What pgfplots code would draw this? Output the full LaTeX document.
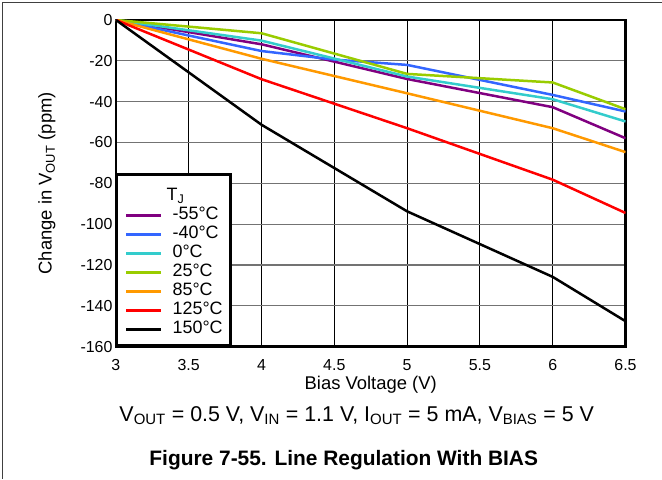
\documentclass[border=0pt]{standalone}
\usepackage{fontspec}
\setmainfont{Liberation Sans}
\usepackage{pgfplots}
\pgfplotsset{compat=1.18}
\definecolor{cPurple}{HTML}{800080}
\definecolor{cBlue}{HTML}{3366FF}
\definecolor{cCyan}{HTML}{33CCCC}
\definecolor{cGreen}{HTML}{99CC00}
\definecolor{cOrange}{HTML}{FF9900}
\definecolor{cRed}{HTML}{FF0000}
\begin{document}
\begin{tikzpicture}
\path (-116bp,-132bp) rectangle (546bp,347bp);
\draw[black!75, line width=1bp] (-113bp,-132bp) -- (-113bp,344bp) -- (546bp,344bp);
\begin{axis}[
  at={(0,0)}, anchor=south west,
  scale only axis, width=510bp, height=327bp,
  xmin=3, xmax=6.5, ymin=-160, ymax=0,
  xtick={3,3.5,4,4.5,5,5.5,6,6.5},
  ytick={-160,-140,-120,-100,-80,-60,-40,-20,0},
  /pgf/number format/assume math mode=true,
  tick style={draw=none},
  tick label style={font=\fontsize{16}{18}\selectfont},
  xticklabel style={yshift=-9bp},
  xmajorgrids, ymajorgrids,
  x grid style={black, line width=1bp},
  y grid style={black!55, line width=1.2bp},
  axis line style={line width=2.5bp},
  xlabel={Bias Voltage (V)},
  ylabel={Change in V\textsubscript{OUT} (ppm)},
  xlabel style={font=\fontsize{18.5}{20}\selectfont, at={([yshift=-38.5bp]axis description cs:0.5,0)}, anchor=center},
  ylabel style={font=\fontsize{18.5}{20}\selectfont, at={([xshift=-69bp]axis description cs:0,0.5)}, anchor=center},
  every axis plot/.append style={line width=2.5bp},
  legend image code/.code={\draw[#1] (0bp,0bp) -- (35bp,0bp);},
  legend cell align=left,
  legend style={at={(0,0)}, anchor=south west, draw=black, line width=2.5bp,
    fill=white, font=\fontsize{18}{19}\selectfont,
    inner xsep=8bp, inner ysep=6.5bp, column sep=10bp, row sep=0bp,
    nodes={inner sep=0bp, text height=13.5bp, text depth=5.5bp}},
]
\addlegendimage{empty legend}
\addlegendentry[text height=19.5bp]{\hspace{-6bp}T\textsubscript{J}}
\addplot[cPurple] coordinates {(3,0) (4,-11.9) (5,-28.9) (6,-42.7) (6.5,-57.9)};
\addlegendentry{-55°C}
\addplot[cBlue] coordinates {(3,0) (4,-15.2) (4.5,-19.4) (5,-22) (6,-36.7) (6.5,-44.8)};
\addlegendentry{-40°C}
\addplot[cCyan] coordinates {(3,0) (4,-10.1) (5,-27.7) (6,-38.8) (6.5,-49.7)};
\addlegendentry{0°C}
\addplot[cGreen] coordinates {(3,0) (4,-6.5) (5,-26.4) (6,-30.6) (6.5,-43.7)};
\addlegendentry{25°C}
\addplot[cOrange] coordinates {(3,0) (4,-19) (5,-35.9) (6,-53) (6.5,-64.7)};
\addlegendentry{85°C}
\addplot[cRed] coordinates {(3,0) (4,-29) (5,-53) (6,-78.2) (6.5,-94.5)};
\addlegendentry{125°C}
\addplot[black] coordinates {(3,0) (4,-51.3) (5,-93.7) (6,-125.8) (6.5,-147.5)};
\addlegendentry{150°C}
\end{axis}
\node[font=\fontsize{21.5}{23}\selectfont] at (241bp,-69bp) {V\textsubscript{OUT} = 0.5 V, V\textsubscript{IN} = 1.1 V, I\textsubscript{OUT} = 5 mA, V\textsubscript{BIAS} = 5 V};
\node[font=\fontsize{21}{23}\selectfont\bfseries] at (228bp,-113bp) {Figure 7-55. Line Regulation With BIAS};
\end{tikzpicture}
\end{document}
